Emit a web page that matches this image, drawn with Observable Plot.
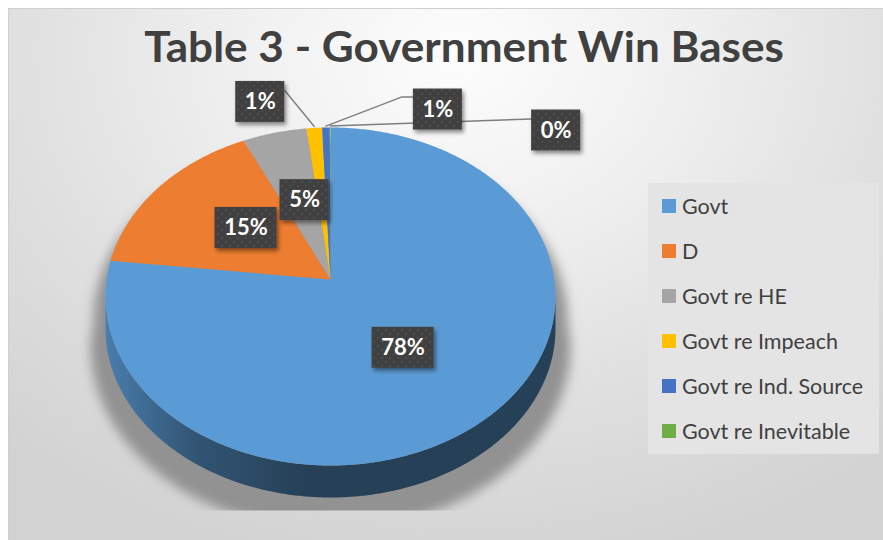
<!DOCTYPE html>
<html>
<head>
<meta charset="utf-8">
<script src="https://cdn.jsdelivr.net/npm/d3@7"></script>
<script src="https://cdn.jsdelivr.net/npm/@observablehq/plot@0.6"></script>
<style>
  body { margin: 0; background: #ffffff; }
  #wrap { position: relative; width: 883px; height: 540px; overflow: hidden; font-family: Lato, "Open Sans", sans-serif; }
  #frame { position: absolute; left: 8px; top: 8px; width: 900px; height: 560px; border: 1px solid #cfcfcf;
    background: radial-gradient(ellipse 75% 95% at 50% 8%, #fdfdfd 0%, #f1f1f1 30%, #e0e0e0 65%, #d2d2d2 100%); }
  #title { position: absolute; left: 464px; top: 25px; font: bold 42px Lato, sans-serif; line-height: 42px; color: #404040;
    white-space: nowrap; transform-origin: 50% 50%; }
  #chart { position: absolute; left: 0; top: 0; }
  #legend { position: absolute; left: 648px; top: 183px; width: 231px; height: 271px; background: #e4e4e4; }
  .item { position: absolute; left: 14px; height: 26px; display: flex; align-items: center; white-space: nowrap;
    font: 21.5px Lato, sans-serif; color: #404040; }
  .sw { width: 14px; height: 14px; margin-right: 6px; }
</style>
</head>
<body>
<div id="wrap">
  <div id="frame"></div>
  <div id="title">Table 3 - Government Win Bases</div>
  <div id="chart"></div>
  <div id="legend"></div>
</div>
<script>
// ---- data ----
const categories = ["Govt", "D", "Govt re HE", "Govt re Impeach", "Govt re Ind. Source", "Govt re Inevitable"];
const shares = [78.4, 15.3, 4.6, 1.1, 0.55, 0.05];
const colors = ["#5B9BD5", "#ED7D31", "#A5A5A5", "#FFC000", "#4472C4", "#70AD47"];

// ---- layout (pixel geometry of the tilted pie) ----
const G = { cx: 330, cy: 296, rx: 225, ry: 169, apexDy: -17, depth: 32 };
const rim = (t, dy = 0, grow = 0) => [G.cx + (G.rx + grow) * Math.sin(t), G.cy - (G.ry + grow) * Math.cos(t) + dy];
const apex = [G.cx, G.cy + G.apexDy];
const total = d3.sum(shares);
const arcs = d3.pie().sort(null).value(d => d)(shares);
const pct = shares.map(v => Math.round(v / total * 100) + "%");
const step = Math.PI / 360;
const angles = (a0, a1) => { const n = Math.max(2, Math.ceil((a1 - a0) / step)); return d3.range(n + 1).map(k => a0 + (a1 - a0) * k / n); };

// top faces
const topRows = [];
arcs.forEach((a, i) => {
  const pts = [apex, ...angles(a.startAngle, a.endAngle).map(t => rim(t))];
  pts.forEach(([x, y]) => topRows.push({ cat: categories[i], x, y }));
});

// side faces (front half only)
const sideRows = [], sideCats = [];
arcs.forEach((a, i) => {
  const s = Math.max(a.startAngle, Math.PI / 2), e = Math.min(a.endAngle, 3 * Math.PI / 2);
  if (e <= s) return;
  sideCats.push(i);
  const ts = angles(s, e);
  const pts = [...ts.map(t => rim(t)), ...ts.slice().reverse().map(t => rim(t, G.depth))];
  pts.forEach(([x, y]) => sideRows.push({ cat: categories[i], x, y }));
});

// soft shadow silhouette
const shadowRows = [
  ...angles(-Math.PI / 2, Math.PI / 2).map(t => rim(t, 25, 12)),
  ...angles(Math.PI / 2, 3 * Math.PI / 2).map(t => rim(t, G.depth + 17, 15))
].map(([x, y]) => ({ x, y }));

// labels
const ctx = document.createElement("canvas").getContext("2d");
ctx.font = "bold 22px Lato";
const boxH = 41, pad = 9;
const outside = { 3: { dx: -54, dy: -26 }, 4: { dx: 112, dy: -18 }, 5: { dx: 226, dy: 3 } };
const boxes = [], leaders = [];
arcs.forEach((a, i) => {
  const mid = (a.startAngle + a.endAngle) / 2;
  const r = rim(mid);
  const w = Math.round(ctx.measureText(pct[i]).width + 2 * pad);
  let cx, cy;
  if (outside[i]) {
    cx = r[0] + outside[i].dx; cy = r[1] + outside[i].dy;
  } else {
    cx = apex[0] + 0.5 * (r[0] - apex[0]) + 2; cy = apex[1] + 0.5 * (r[1] - apex[1]) - 6;
  }
  const b = { cat: categories[i], label: pct[i], x1: cx - w / 2, x2: cx + w / 2, y1: cy - boxH / 2, y2: cy + boxH / 2, cx, cy };
  boxes.push(b);
  if (outside[i]) {
    const anchor = [r[0], r[1] - 1.5];
    let path;
    if (i === 3) path = [anchor, [b.x2, b.y1 + 9]];
    else if (i === 4) path = [anchor, [b.x1 - 12, b.y1 + 8], [b.x1, b.y1 + 8]];
    else path = [anchor, [b.x1, b.y1 + 9]];
    path.forEach(([x, y]) => leaders.push({ cat: categories[i], x, y }));
  }
});

const svg = Plot.plot({
  width: 883, height: 540, margin: 0, axis: null,
  style: { background: "transparent", overflow: "visible" },
  x: { type: "identity" }, y: { type: "identity" },
  color: { domain: categories, range: colors },
  marks: [
    Plot.line(shadowRows, { x: "x", y: "y", fill: "#929292", fillOpacity: 1, stroke: "none", curve: "linear-closed" }),
    Plot.line(sideRows, { x: "x", y: "y", z: "cat", fill: "cat", stroke: "none" }),
    Plot.line(topRows, { x: "x", y: "y", z: "cat", fill: "cat", stroke: "none" }),
    Plot.line(leaders, { x: "x", y: "y", z: "cat", stroke: "#7f7f7f", strokeWidth: 1.4 }),
    Plot.rect(boxes, { x1: "x1", x2: "x2", y1: "y1", y2: "y2", fill: "#404040" }),
    Plot.text(boxes, { x: "cx", y: "cy", text: "label", fill: "white", fontSize: 22, fontWeight: "bold", fontFamily: "Lato" })
  ]
});

// decorations: gradients, pattern, filters
const groups = Array.from(svg.children).filter(n => n.tagName.toLowerCase() === "g");
const [gShadow, gSide, gTop, gLead, gBoxes] = groups;
const s = d3.select(svg);
const defs = s.insert("defs", ":first-child");
const blur = defs.append("filter").attr("id", "shadowBlur").attr("x", "-20%").attr("y", "-20%").attr("width", "140%").attr("height", "140%");
blur.append("feGaussianBlur").attr("stdDeviation", 6);
defs.append("clipPath").attr("id", "shadowClip").append("rect").attr("x", 0).attr("y", 0).attr("width", 883).attr("height", 510);
const drop = defs.append("filter").attr("id", "dropShadow").attr("x", "-30%").attr("y", "-30%").attr("width", "170%").attr("height", "170%");
drop.append("feDropShadow").attr("dx", 2).attr("dy", 3).attr("stdDeviation", 2).attr("flood-color", "#000").attr("flood-opacity", 0.45);
const pat = defs.append("pattern").attr("id", "dots").attr("width", 8).attr("height", 8).attr("patternUnits", "userSpaceOnUse");
pat.append("rect").attr("width", 8).attr("height", 8).attr("fill", "#3f3f3f");
pat.append("circle").attr("cx", 2).attr("cy", 2).attr("r", 0.9).attr("fill", "#555");
pat.append("circle").attr("cx", 6).attr("cy", 6).attr("r", 0.9).attr("fill", "#555");
sideCats.forEach(i => {
  const c = d3.color(colors[i]);
  const g = defs.append("linearGradient").attr("id", "side-" + i).attr("gradientUnits", "userSpaceOnUse")
    .attr("x1", G.cx - G.rx).attr("x2", G.cx + G.rx).attr("y1", 0).attr("y2", 0);
  g.append("stop").attr("offset", 0).attr("stop-color", c.darker(0.6));
  g.append("stop").attr("offset", 0.2).attr("stop-color", c.darker(1.7));
  g.append("stop").attr("offset", 0.45).attr("stop-color", c.darker(2.5));
  g.append("stop").attr("offset", 1).attr("stop-color", c.darker(2.5));
});
if (gShadow) d3.select(gShadow).attr("filter", "url(#shadowBlur)").attr("clip-path", "url(#shadowClip)");
if (gSide) d3.select(gSide).selectAll("path").each(function (d, j) { d3.select(this).attr("fill", "url(#side-" + sideCats[j] + ")"); });
if (gBoxes) d3.select(gBoxes).attr("fill", "url(#dots)").attr("filter", "url(#dropShadow)").selectAll("rect").attr("fill", "url(#dots)");
document.getElementById("chart").appendChild(svg);

// title fit
const title = document.getElementById("title");
ctx.font = "bold 42px Lato";
const tw = ctx.measureText(title.textContent).width;
title.style.transform = `translateX(-50%) scaleX(${640 / tw})`;

// legend
const legend = d3.select("#legend");
categories.forEach((c, i) => {
  const it = legend.append("div").attr("class", "item").style("top", (10 + 45 * i) + "px");
  it.append("div").attr("class", "sw").style("background", colors[i]);
  it.append("span").text(c);
});
</script>
</body>
</html>
